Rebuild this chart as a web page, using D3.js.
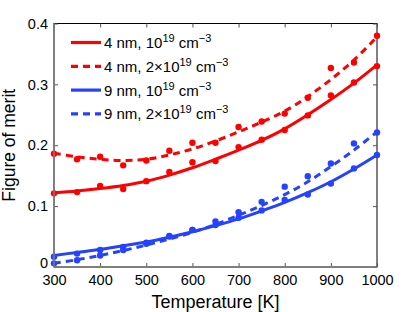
<!DOCTYPE html>
<html>
<head>
<meta charset="utf-8">
<script src="https://cdn.jsdelivr.net/npm/d3@7"></script>
<style>
  body { margin: 0; background: #fff; }
  svg { font-family: "Liberation Sans", Arial, sans-serif; }
</style>
</head>
<body>
<svg id="plate" width="415" height="312"></svg>
<script>
// temperatures [K]
var temps = [300, 350, 400, 450, 500, 550, 600, 650, 700, 750, 800, 850, 900, 950, 1000];

// measured points
var red1Pts = [0.121, 0.123, 0.133, 0.128, 0.141, 0.156, 0.172, 0.174, 0.197, 0.209, 0.225, 0.249, 0.282, 0.303, 0.330];
var red2Pts = [0.186, 0.177, 0.181, 0.167, 0.175, 0.191, 0.204, 0.204, 0.230, 0.239, 0.252, 0.278, 0.327, 0.336, 0.380];
var blue1Pts = [0.017, 0.022, 0.028, 0.033, 0.040, 0.051, 0.061, 0.069, 0.081, 0.093, 0.110, 0.119, 0.137, 0.162, 0.184];
var blue2Pts = [0.006, 0.011, 0.019, 0.028, 0.038, 0.050, 0.061, 0.075, 0.090, 0.107, 0.132, 0.149, 0.170, 0.203, 0.221];

// fitted curves
var red1Fit = [0.122, 0.125, 0.129, 0.134, 0.141, 0.151, 0.163, 0.177, 0.192, 0.208, 0.227, 0.250, 0.275, 0.302, 0.332];
var red2Fit = [0.187, 0.181, 0.177, 0.175, 0.177, 0.184, 0.194, 0.207, 0.222, 0.238, 0.256, 0.280, 0.308, 0.340, 0.378];
var blue1Fit = [0.019, 0.024, 0.029, 0.035, 0.041, 0.049, 0.058, 0.068, 0.079, 0.092, 0.106, 0.122, 0.140, 0.161, 0.184];
var blue2Fit = [0.006, 0.012, 0.019, 0.027, 0.036, 0.046, 0.057, 0.070, 0.085, 0.101, 0.119, 0.140, 0.165, 0.192, 0.222];

var xTicks = [300, 400, 500, 600, 700, 800, 900, 1000];
var yTicks = [0, 0.1, 0.2, 0.3, 0.4];

var series = [
    {size: '4', dens: '', color: '#ff0000', dash: null, pts: red1Pts, fit: red1Fit},
    {size: '4', dens: '2\u00d7', color: '#ff0000', dash: '7,5', pts: red2Pts, fit: red2Fit},
    {size: '9', dens: '', color: '#2442ff', dash: null, pts: blue1Pts, fit: blue1Fit},
    {size: '9', dens: '2\u00d7', color: '#2442ff', dash: '7,5', pts: blue2Pts, fit: blue2Fit}
];

var margin = {top: 23.5, right: 38, bottom: 45, left: 54};
var svgWidth = 415, svgHeight = 312;
var width = svgWidth - margin.left - margin.right;
var height = svgHeight - margin.top - margin.bottom;

var x = d3.scaleLinear().domain([300, 1000]).range([0, width]);
var y = d3.scaleLinear().domain([0, 0.4]).range([height, 0]);

var svg = d3.select('#plate')
    .append('g')
    .attr('transform', 'translate(' + margin.left + ',' + margin.top + ')');

// box
svg.append('rect')
    .attr('width', width).attr('height', height)
    .attr('fill', 'none').attr('stroke', '#000').attr('stroke-width', 1);

var line = d3.line()
    .x(function(d, i) { return x(temps[i]); })
    .y(function(d) { return y(d); })
    .curve(d3.curveCatmullRom.alpha(0.5));

var plot = svg.append('g');
series.forEach(function(s) {
    plot.append('path')
        .datum(s.fit)
        .attr('d', line)
        .attr('fill', 'none')
        .attr('stroke', s.color)
        .attr('stroke-width', 3)
        .attr('stroke-dasharray', s.dash);
    plot.selectAll(null)
        .data(s.pts)
        .enter().append('circle')
        .attr('cx', function(d, i) { return x(temps[i]); })
        .attr('cy', function(d) { return y(d); })
        .attr('r', 3.2)
        .attr('fill', s.color);
});

// axes
var bottom = svg.append('g')
    .attr('transform', 'translate(0,' + height + ')')
    .call(d3.axisBottom(x).tickValues(xTicks).tickSizeInner(-4).tickSizeOuter(0).tickPadding(8).tickFormat(d3.format('d')));
var left = svg.append('g')
    .call(d3.axisLeft(y).tickValues(yTicks).tickSizeInner(-4).tickSizeOuter(0).tickPadding(6)
        .tickFormat(function(d) { return d === 0 ? '0' : d3.format('.1f')(d); }));
svg.append('g')
    .call(d3.axisTop(x).tickValues(xTicks).tickSizeInner(-4).tickSizeOuter(0).tickFormat(''));
svg.append('g')
    .attr('transform', 'translate(' + width + ',0)')
    .call(d3.axisRight(y).tickValues(yTicks).tickSizeInner(-4).tickSizeOuter(0).tickFormat(''));

svg.selectAll('.domain').attr('stroke', 'none');
svg.selectAll('.tick line').attr('stroke', '#555');
svg.selectAll('.tick text').attr('font-size', 14.5).attr('fill', '#000')
    .attr('font-family', '"Liberation Sans", Arial, sans-serif');
bottom.selectAll('.tick text').attr('dy', '0.71em');
// nudge the "0" label up so it clears "300"
left.selectAll('.tick text').filter(function(d) { return d === 0; }).attr('dy', '0.05em');

// gray left/bottom spines like the reference
svg.append('line').attr('x1', 0).attr('x2', 0).attr('y1', 0).attr('y2', height)
    .attr('stroke', '#7f7f7f').attr('stroke-width', 1.5);
svg.append('line').attr('x1', 0).attr('x2', width).attr('y1', height).attr('y2', height)
    .attr('stroke', '#7f7f7f').attr('stroke-width', 1.5);

// axis titles
svg.append('text')
    .attr('x', width / 2).attr('y', height + 41)
    .attr('text-anchor', 'middle').attr('font-size', 18)
    .text('Temperature [K]');
svg.append('text')
    .attr('transform', 'translate(' + (-39) + ',' + (height / 2) + ') rotate(-90)')
    .attr('text-anchor', 'middle').attr('font-size', 17.5)
    .text('Figure of merit');

// legend
var legend = svg.append('g').attr('transform', 'translate(17,19)');
series.forEach(function(s, i) {
    var row = legend.append('g').attr('transform', 'translate(0,' + (i * 23.8) + ')');
    row.append('line')
        .attr('x1', 0).attr('x2', 30)
        .attr('stroke', s.color).attr('stroke-width', 3.2)
        .attr('stroke-dasharray', s.dash);
    var t = row.append('text').attr('x', 33).attr('y', 5.5).attr('font-size', 15);
    t.append('tspan').text(s.size + ' nm, ' + s.dens + '10');
    t.append('tspan').attr('font-size', 11).attr('dy', -6).text('19');
    t.append('tspan').attr('dy', 6).text(' cm');
    t.append('tspan').attr('font-size', 11).attr('dy', -6).text('\u22123');
});
</script>
</body>
</html>
